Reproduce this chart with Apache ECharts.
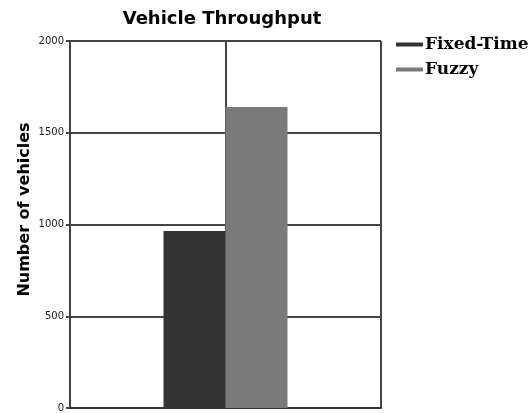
<!DOCTYPE html>
<html><head><meta charset="utf-8">
<script src="https://cdn.jsdelivr.net/npm/echarts@6/dist/echarts.min.js"></script>
<style>html,body{margin:0;padding:0;background:#fff}#c{width:532px;height:413px}</style>
</head><body><div id="c"></div>
<script>
var categories = [''];
var seriesNames = ['Fixed-Time', 'Fuzzy'];
var fixedTime = [965];
var fuzzy = [1640];
var yTicks = [0, 500, 1000, 1500, 2000];

var chart = echarts.init(document.getElementById('c'));
chart.setOption({
  animation: false,
  backgroundColor: '#fff',
  title: {
    text: 'Vehicle Throughput', left: 217, top: 5, textAlign: 'center',
    textStyle: { fontFamily: 'DejaVu Sans', fontWeight: 'bold', fontSize: 18, color: '#000' }
  },
  legend: {
    data: seriesNames, orient: 'vertical', left: 391, top: 31, itemGap: 8,
    itemWidth: 27, itemHeight: 4, icon: 'rect',
    textStyle: { fontFamily: 'DejaVu Serif', fontWeight: 'bold', fontSize: 17, color: '#000', padding: [0, 0, 0, -3] },
    itemStyle: { borderWidth: 0 }
  },
  grid: { left: 70, right: 151, top: 41, bottom: 1, containLabel: false },
  xAxis: [{
    type: 'category', data: categories,
    axisLine: { show: true, lineStyle: { color: '#333', width: 2 } },
    axisTick: { show: false }, axisLabel: { show: false },
    splitLine: { show: false }
  }, {
    type: 'value', min: 0, max: 2, interval: 1, position: 'top', show: true,
    axisLine: { show: false }, axisTick: { show: false }, axisLabel: { show: false },
    splitLine: { show: true, lineStyle: { color: '#444', width: 2 } }
  }],
  yAxis: {
    type: 'value', min: yTicks[0], max: yTicks[yTicks.length - 1], interval: 500,
    name: 'Number of vehicles', nameLocation: 'middle', nameGap: 37, nameMoveOverlap: false,
    nameTextStyle: { fontFamily: 'DejaVu Sans', fontWeight: 'bold', fontSize: 16, color: '#000', padding: [0, 0, 0, 30] },
    axisLine: { show: true, lineStyle: { color: '#444', width: 2 } },
    axisTick: { show: true, length: 4, lineStyle: { color: '#444', width: 2 } },
    axisLabel: { fontFamily: 'DejaVu Sans', fontSize: 10, color: '#222', margin: 6,
      formatter: function (v) { return String(v); } },
    splitLine: { show: true, lineStyle: { color: '#444', width: 2 } }
  },
  series: [{
    name: seriesNames[0], type: 'bar', data: fixedTime, barWidth: 62, barGap: '0%',
    itemStyle: { color: '#333333' }
  }, {
    name: seriesNames[1], type: 'bar', data: fuzzy, barWidth: 62, barGap: '0%',
    itemStyle: { color: '#7a7a7a' }
  }]
});
</script></body></html>
